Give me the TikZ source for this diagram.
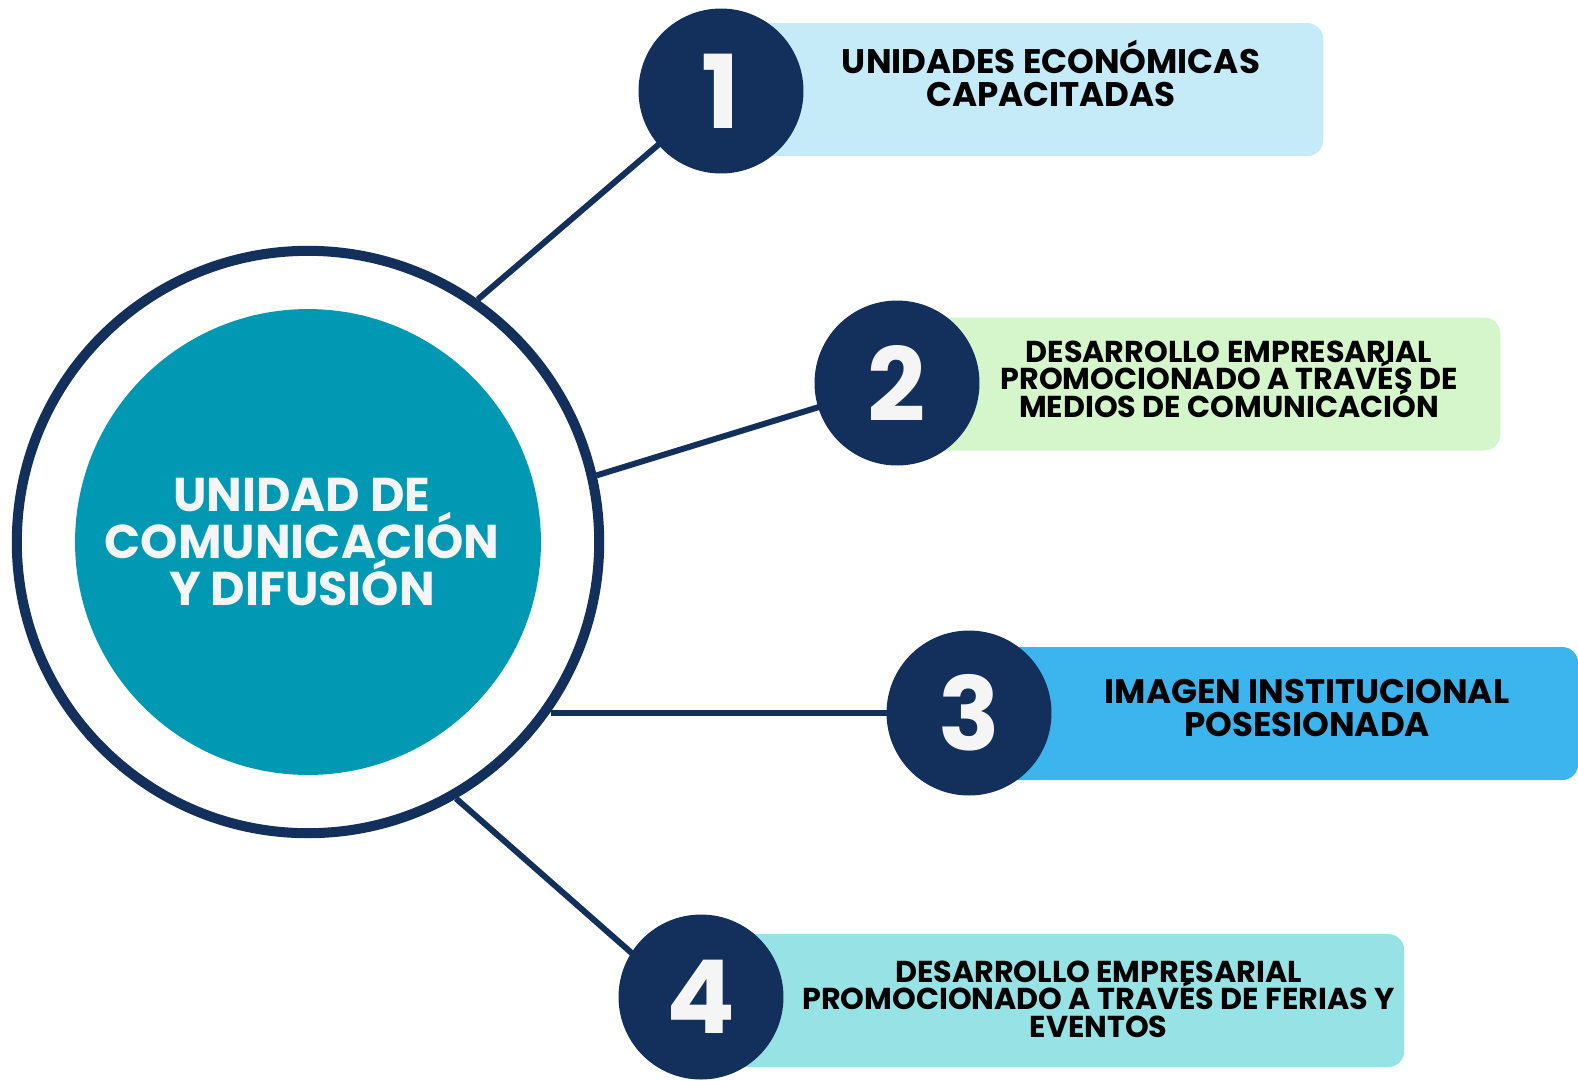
\documentclass[tikz,border=0pt]{standalone}
\usepackage{fontspec}
\usetikzlibrary{backgrounds}
\setmainfont{Poppins}
\definecolor{navy}{HTML}{12305B}
\definecolor{teal}{HTML}{0098B3}
\definecolor{boxa}{HTML}{C5EBF8}
\definecolor{boxb}{HTML}{D5F5CB}
\definecolor{boxc}{HTML}{3CB5EE}
\definecolor{boxd}{HTML}{96E2E4}
\definecolor{offwhite}{HTML}{F5F5F5}
\newcommand{\tightlines}{\lineskiplimit=-100pt\relax\lineskip=0pt\relax}
\begin{document}
\begin{tikzpicture}[x=0.02cm,y=-0.02cm,
  boxs/.style={rectangle, rounded corners=0.32cm, inner sep=0, anchor=west, minimum height=2.66cm},
  numc/.style={circle, fill=navy, inner sep=0, minimum size=3.3cm, text=offwhite, font=\fontsize{58}{58}\selectfont\bfseries},
  conn/.style={draw=navy, line width=3.4pt},
  lbl/.style={align=center, text=black, inner sep=0, font=\fontsize{19.4}{18.3}\selectfont\bfseries\tightlines},
  lbls/.style={align=center, text=black, inner sep=0, font=\fontsize{17.2}{15.7}\selectfont\bfseries\tightlines}]
\useasboundingbox (0,0) rectangle (1578,1080);
% boxes
\node[boxs, fill=boxa, minimum width=12.04cm] (b1) at (721,89.5) {};
\node[boxs, fill=boxb, minimum width=11.58cm] (b2) at (921,384) {};
\node[boxs, fill=boxc, minimum width=12.18cm] (b3) at (969,713.5) {};
\node[boxs, fill=boxd, minimum width=14.06cm] (b4) at (701,1000.5) {};
% outer ring and inner disc
\node[circle, draw=navy, line width=5.7pt, fill=white, inner sep=0, minimum size=11.65cm] (outer) at (308,542) {};
\node[circle, fill=teal, inner sep=0, minimum size=9.32cm] (inner) at (308,542) {};
% number circles
\node[numc] (n1) at (721,91) {1};
\node[numc] (n2) at (897,383) {2};
\node[numc] (n3) at (969,713) {3};
\node[numc] (n4) at (701,997) {4};
% connectors
\begin{scope}[on background layer]
\draw[conn] (outer.55.6) -- (n1.center);
\draw[conn] (outer.13.1) -- (n2.center);
\draw[conn] (n3.center -| outer.-35.9) -- (n3.center);
\draw[conn] (outer.-60.5) -- ([yshift=-9.7pt]n4.center);
\end{scope}
% texts
\node[align=center, text=offwhite, inner sep=0, font=\fontsize{27}{26.8}\selectfont\bfseries] (ct) at (302,542) {UNIDAD DE\\COMUNICACIÓN\\Y DIFUSIÓN};
\node[lbl] (t1) at (1051,73.5) {UNIDADES ECONÓMICAS\\CAPACITADAS};
\node[lbls] (t2) at (1229,379) {DESARROLLO EMPRESARIAL\\PROMOCIONADO A TRAVÉS DE\\MEDIOS DE COMUNICACIÓN};
\node[lbl] (t3) at (1307,708) {IMAGEN INSTITUCIONAL\\POSESIONADA};
\node[lbls] (t4) at (1098.5,999) {DESARROLLO EMPRESARIAL\\PROMOCIONADO A TRAVÉS DE FERIAS Y\\EVENTOS};
\end{tikzpicture}
\end{document}
